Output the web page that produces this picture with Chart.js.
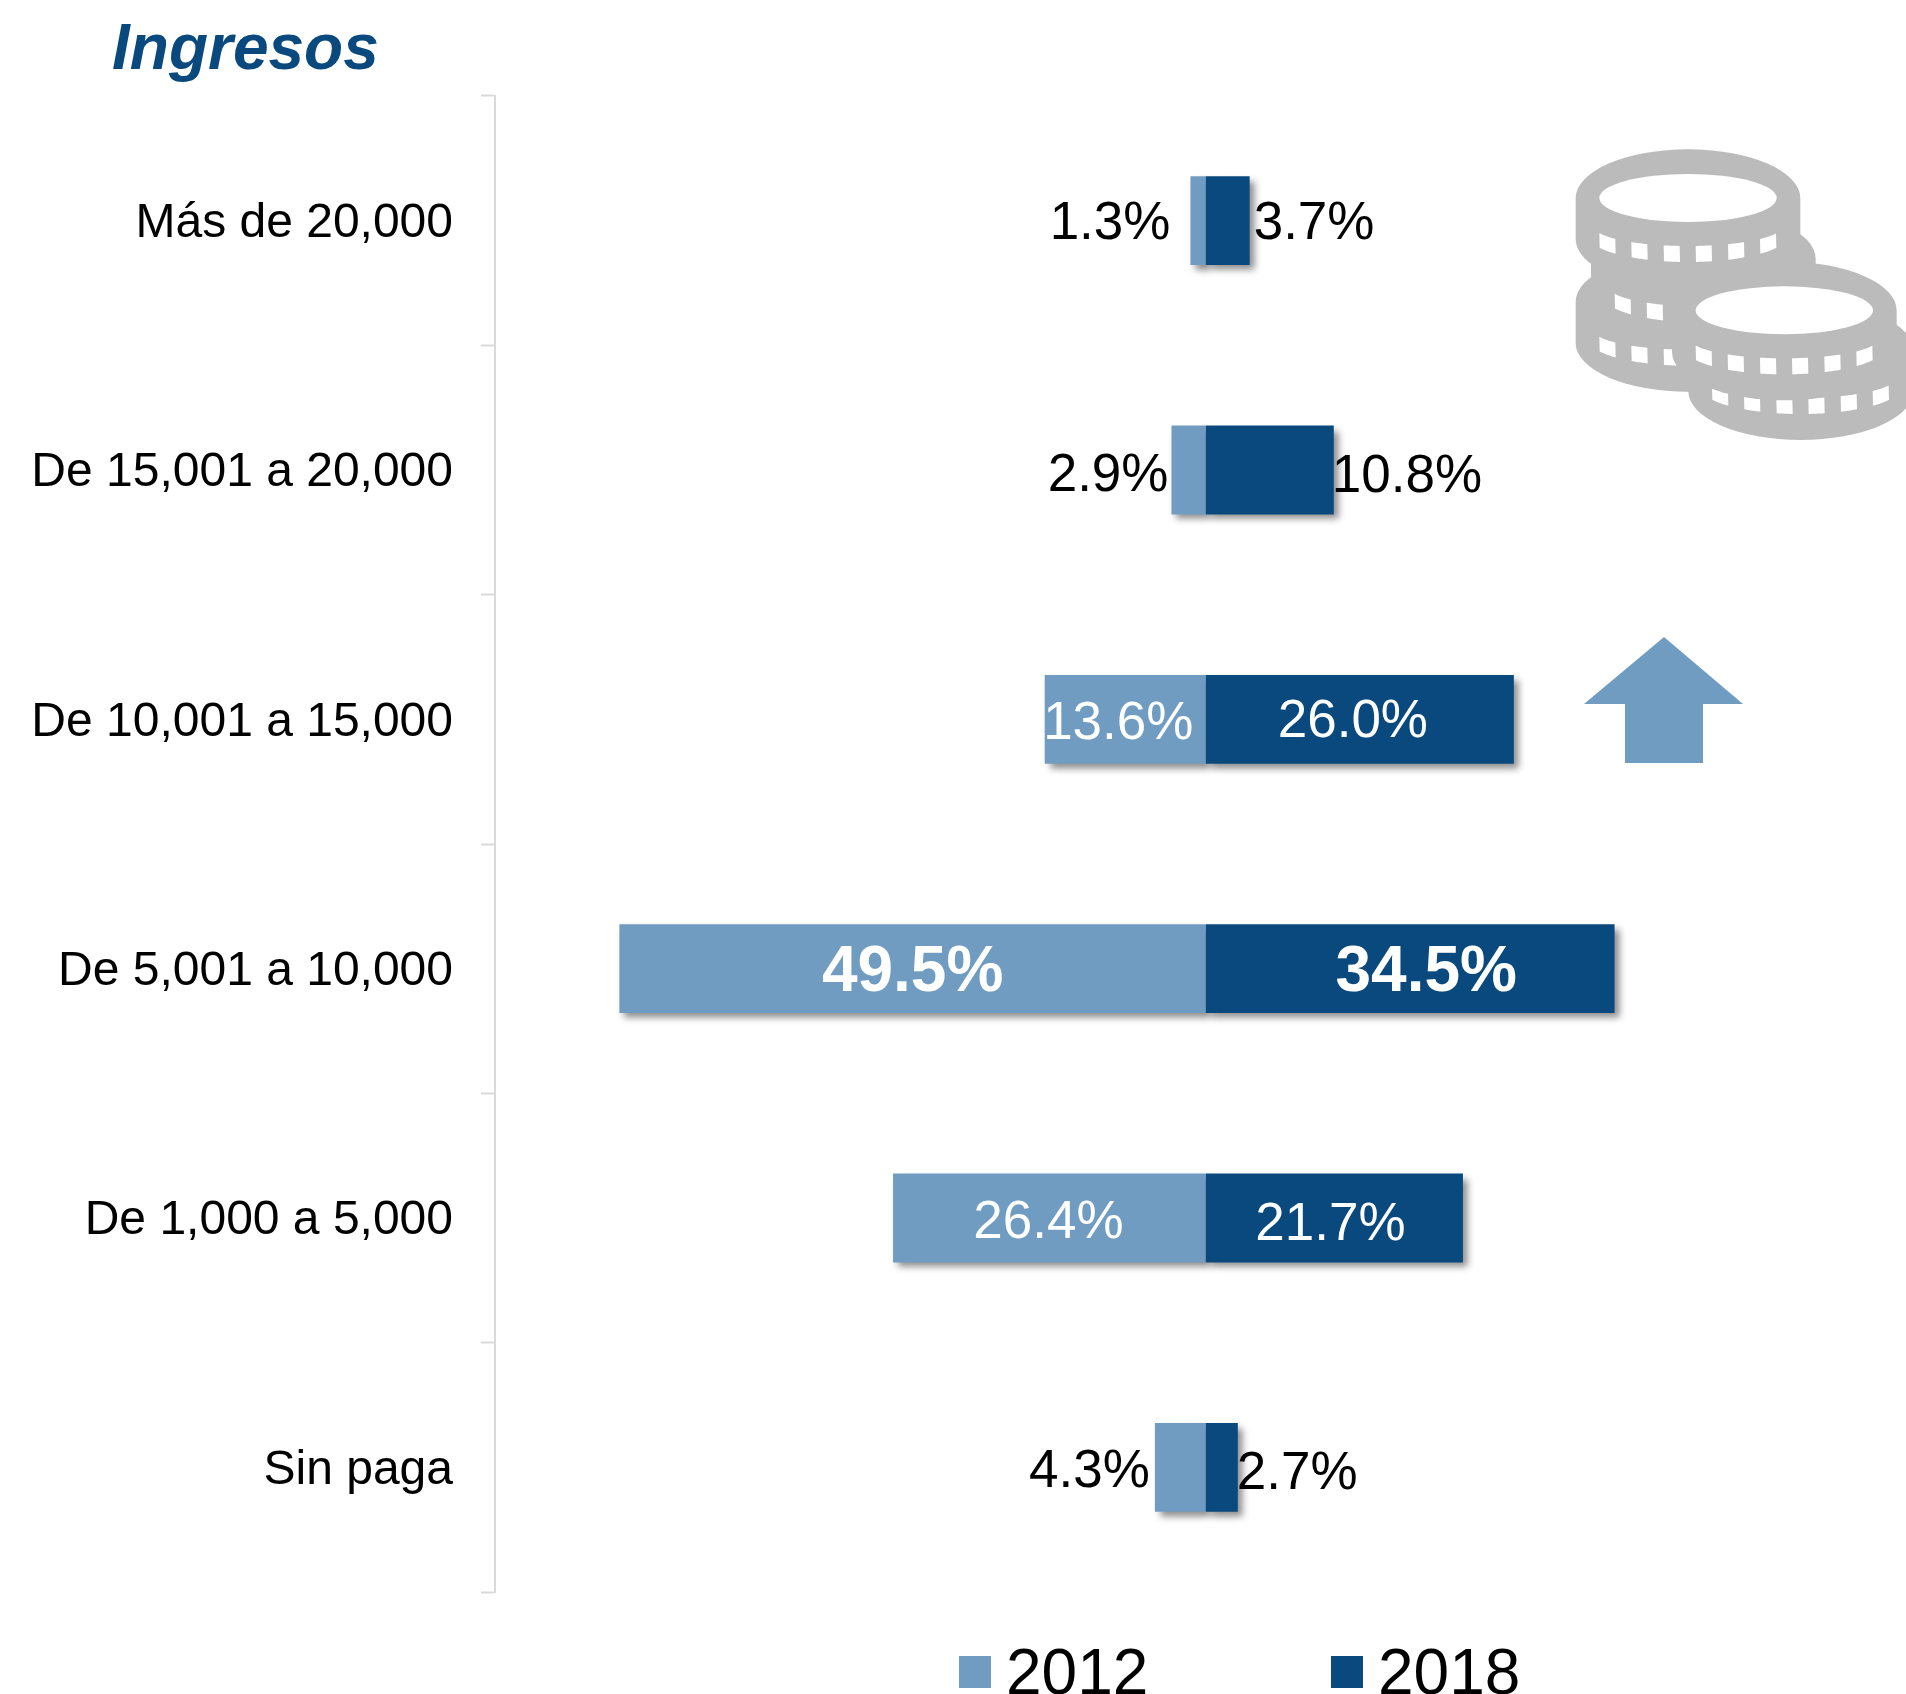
<!DOCTYPE html>
<html>
<head>
<meta charset="utf-8">
<title>Ingresos</title>
<script src="https://cdn.jsdelivr.net/npm/chart.js@4/dist/chart.umd.js"></script>
<style>
  html, body { margin: 0; padding: 0; background: #fff; }
  canvas { display: block; }
</style>
</head>
<body>
<canvas id="ingresosChart" width="1906" height="1694"></canvas>
<script>
const categories = ['Más de 20,000', 'De 15,001 a 20,000', 'De 10,001 a 15,000', 'De 5,001 a 10,000', 'De 1,000 a 5,000', 'Sin paga'];
const seriesNames = ['2012', '2018'];
const values2012 = [1.3, 2.9, 13.6, 49.5, 26.4, 4.3];
const values2018 = [3.7, 10.8, 26.0, 34.5, 21.7, 2.7];

const LIGHT = '#709cc1';
const DARK = '#0a497d';
const FONT = '"Liberation Sans", Arial, sans-serif';

// small hand adjustments so the labels sit where they do in the picture [dx, dy]
const labelNudge = [
  [[-20, 4], [4, 4]],
  [[-3, 6], [-2, 7]],
  [[-7, 5], [-7, 3]],
  [[0, 5], [16, 5]],
  [[-1, 5], [-4, 7]],
  [[-5, 5], [-1, 7]],
];

function isInside(value) {
  return value > 12;
}

// bar shadows
const shadowPlugin = {
  id: 'barShadow',
  beforeDatasetDraw(chart) {
    const ctx = chart.ctx;
    ctx.save();
    ctx.shadowColor = 'rgba(0, 0, 0, 0.45)';
    ctx.shadowBlur = 7;
    ctx.shadowOffsetX = 5;
    ctx.shadowOffsetY = 5;
  },
  afterDatasetDraw(chart) {
    chart.ctx.restore();
  },
};

// percentage labels on or beside the bars
const labelPlugin = {
  id: 'barLabels',
  afterDatasetsDraw(chart) {
    const ctx = chart.ctx;
    chart.data.datasets.forEach((dataset, d) => {
      const bars = chart.getDatasetMeta(d).data;
      bars.forEach((bar, i) => {
        const value = Math.abs(dataset.data[i]);
        const inside = isInside(value);
        const bold = value > 30;
        const nudge = labelNudge[i][d];
        ctx.save();
        ctx.font = (bold ? 'bold 64px ' : '53px ') + FONT;
        ctx.fillStyle = inside ? '#fff' : '#000';
        ctx.textBaseline = 'middle';
        let x;
        if (inside) {
          ctx.textAlign = 'center';
          x = (bar.x + bar.base) / 2;
        } else {
          ctx.textAlign = d === 0 ? 'right' : 'left';
          x = bar.x;
        }
        ctx.fillText(value.toFixed(1) + '%', x + nudge[0], bar.y + nudge[1]);
        ctx.restore();
      });
    });
  },
};

// one coin of the icon, in the zoomed icon units
function drawCoin(ctx, cx, cy, showFace) {
  const rx = 337, ry = 146, h = 124;
  ctx.fillStyle = '#bbbbbb';
  ctx.beginPath();
  ctx.ellipse(cx, cy, rx, ry, 0, Math.PI, 0);
  ctx.lineTo(cx + rx, cy + h);
  ctx.ellipse(cx, cy + h, rx, ry, 0, 0, Math.PI);
  ctx.closePath();
  ctx.fill();

  ctx.fillStyle = '#fff';
  if (showFace) {
    ctx.beginPath();
    ctx.ellipse(cx, cy, 266, 72, 0, 0, Math.PI * 2);
    ctx.fill();
  }
  // little notches around the edge
  [-266, -170, -73, 23, 120, 216].forEach((left) => {
    const right = left + 49;
    ctx.beginPath();
    for (let x = left; x <= right; x += 4) {
      const t = x / 285;
      ctx.lineTo(cx + x, cy + 84 + 60 * Math.sqrt(1 - t * t));
    }
    for (let x = right; x >= left; x -= 4) {
      const t = x / 300;
      ctx.lineTo(cx + x, cy + 112 + 80 * Math.sqrt(1 - t * t));
    }
    ctx.closePath();
    ctx.fill();
  });
}

// title, legend and the two pictures around the chart
const decorPlugin = {
  id: 'decor',
  afterDraw(chart) {
    const ctx = chart.ctx;

    ctx.save();
    ctx.font = 'italic bold 64px ' + FONT;
    ctx.fillStyle = DARK;
    ctx.textBaseline = 'alphabetic';
    ctx.fillText('Ingresos', 112, 69);
    ctx.restore();

    const legendX = [959, 1331];
    chart.data.datasets.forEach((dataset, d) => {
      ctx.save();
      ctx.fillStyle = dataset.backgroundColor;
      ctx.fillRect(legendX[d], 1656, 32, 32);
      ctx.fillStyle = '#000';
      ctx.font = '64px ' + FONT;
      ctx.textBaseline = 'alphabetic';
      ctx.fillText(dataset.label, legendX[d] + 47, 1694);
      ctx.restore();
    });

    // arrow
    ctx.save();
    ctx.fillStyle = LIGHT;
    ctx.beginPath();
    [[1664, 637], [1743, 704], [1703, 704], [1703, 763], [1625, 763], [1625, 704], [1584, 704]].forEach((p) => ctx.lineTo(p[0], p[1]));
    ctx.closePath();
    ctx.fill();
    ctx.restore();

    // coins
    ctx.save();
    ctx.translate(1540, 130);
    ctx.scale(1 / 3, 1 / 3);
    drawCoin(ctx, 444, 515, false);
    drawCoin(ctx, 490, 386, false);
    drawCoin(ctx, 444, 204, true);
    drawCoin(ctx, 782, 660, false);
    drawCoin(ctx, 733, 541, true);
    ctx.restore();
  },
};

new Chart(document.getElementById('ingresosChart').getContext('2d'), {
  type: 'bar',
  data: {
    labels: categories,
    datasets: [
      { label: seriesNames[0], data: values2012.map((v) => -v), backgroundColor: LIGHT, order: 2 },
      { label: seriesNames[1], data: values2018, backgroundColor: DARK, order: 1 },
    ],
  },
  options: {
    indexAxis: 'y',
    responsive: false,
    animation: false,
    devicePixelRatio: 1,
    layout: { padding: { top: 96, bottom: 102, left: 0, right: 0 } },
    datasets: { bar: { barPercentage: 0.356, categoryPercentage: 1, borderWidth: 0 } },
    scales: {
      x: { display: false, stacked: true, min: -60, max: 59.1 },
      y: {
        stacked: true,
        afterFit(scale) {
          scale.width = 495;
        },
        border: { color: '#d9d9d9', width: 2 },
        grid: { drawOnChartArea: false, drawTicks: true, tickLength: 14, tickColor: '#d9d9d9', tickWidth: 2, offset: true },
        ticks: {
          color: '#000',
          padding: 28,
          labelOffset: 3,
          autoSkip: false,
          font: { family: FONT, size: 48 },
        },
      },
    },
    plugins: {
      legend: { display: false },
      tooltip: { enabled: false },
    },
  },
  plugins: [shadowPlugin, labelPlugin, decorPlugin],
});
</script>
</body>
</html>
